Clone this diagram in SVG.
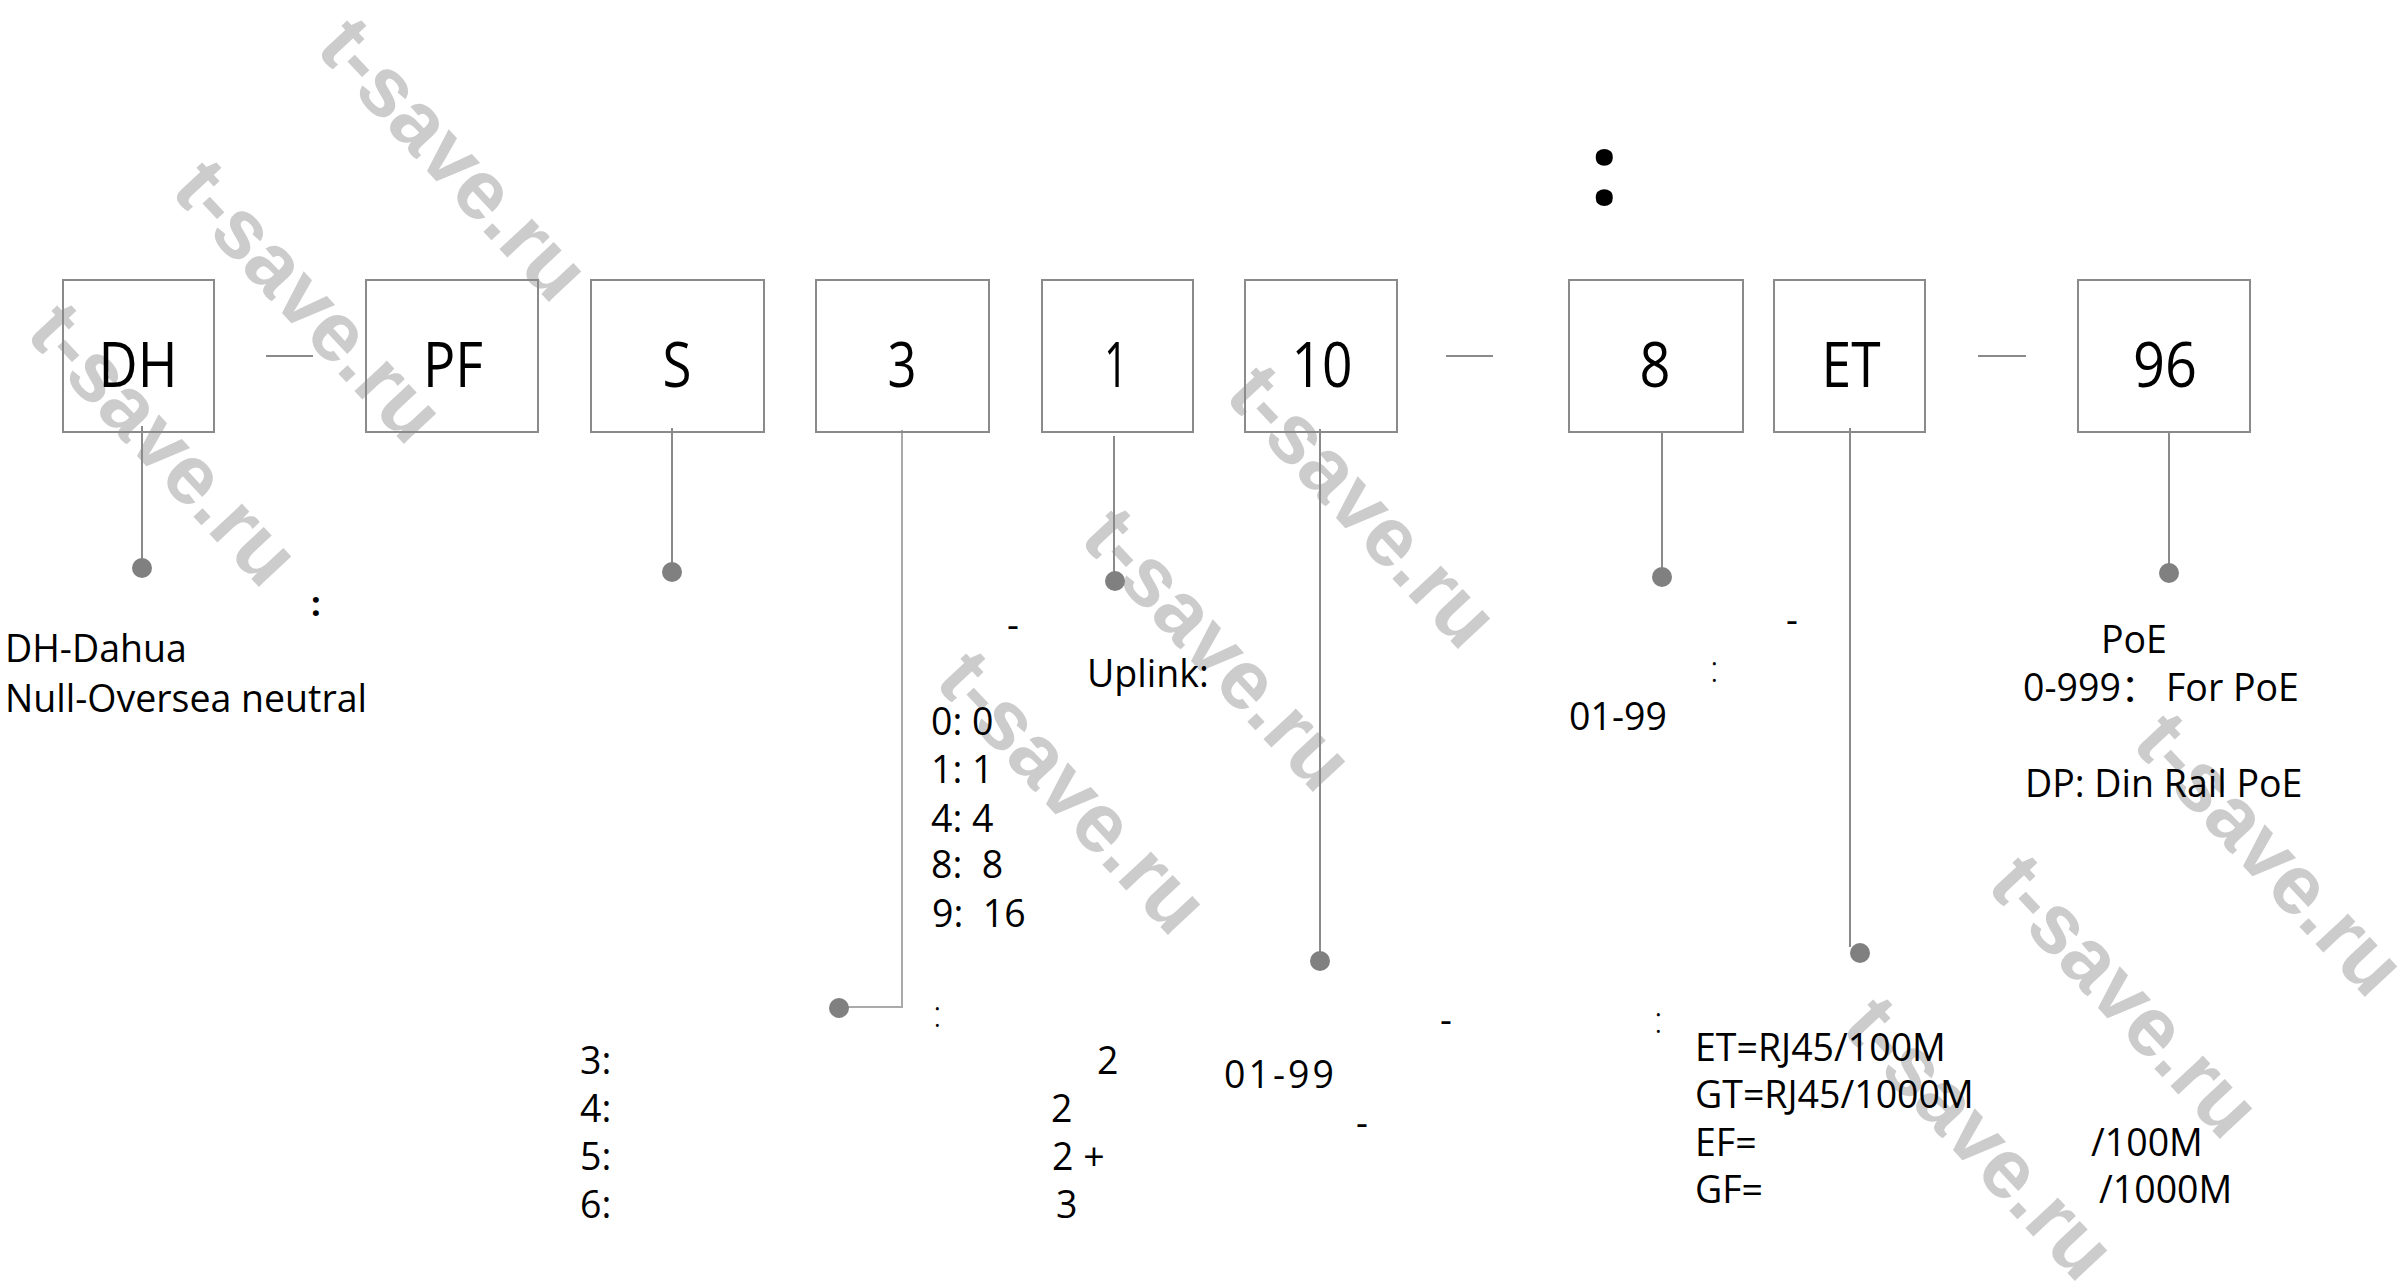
<svg xmlns="http://www.w3.org/2000/svg" width="2407" height="1281" viewBox="0 0 2407 1281">
<style>
.bg{fill:#ffffff}
.wm{font-family:"Liberation Sans",Arial,sans-serif;font-weight:bold;font-size:84px;fill:#cccccc}
.box{fill:none;stroke:#8a8a8a;stroke-width:2}
.lbl{font-family:"Open Sans","Noto Sans",sans-serif;font-size:62px;fill:#000000;text-anchor:middle}
.t{font-family:"Open Sans","Noto Sans CJK SC",sans-serif;font-size:37.5px;fill:#000000}
.thin{font-family:"Open Sans",sans-serif;font-size:36px;font-weight:300;fill:#000000}
.dash{font-family:"Open Sans",sans-serif;font-size:37px;fill:#000000}
.bigcolon{font-family:"Open Sans",sans-serif;font-weight:bold;fill:#000000}
.ln{fill:none;stroke:#8a8a8a;stroke-width:2}
.ln2{fill:none;stroke:#aaaaaa;stroke-width:2}
.dot{fill:#808080}
</style>
<rect class="bg" x="0" y="0" width="2407" height="1281"/>
<g id="watermarks">
<text class="wm" transform="translate(314,50) rotate(47)">t-save.ru</text>
<text class="wm" transform="translate(169,192) rotate(47)">t-save.ru</text>
<text class="wm" transform="translate(24,335) rotate(47)">t-save.ru</text>
<text class="wm" transform="translate(1223,397) rotate(47)">t-save.ru</text>
<text class="wm" transform="translate(1078,540) rotate(47)">t-save.ru</text>
<text class="wm" transform="translate(933,683) rotate(47)">t-save.ru</text>
<text class="wm" transform="translate(2130,745) rotate(47)">t-save.ru</text>
<text class="wm" transform="translate(1985,887) rotate(47)">t-save.ru</text>
<text class="wm" transform="translate(1840,1029) rotate(47)">t-save.ru</text>
</g>
<text class="bigcolon" x="1590" y="205" font-size="100">:</text>
<g id="connectors">
<line class="ln" x1="266" y1="356" x2="313" y2="356"/>
<line class="ln" x1="1446" y1="356" x2="1493" y2="356"/>
<line class="ln" x1="1978" y1="356" x2="2026" y2="356"/>
<line class="ln" x1="142" y1="426" x2="142" y2="560"/>
<circle class="dot" cx="142" cy="568" r="10"/>
<line class="ln" x1="672" y1="428" x2="672" y2="564"/>
<circle class="dot" cx="672" cy="572" r="10"/>
<polyline class="ln2" points="902,430 902,1007 845,1007"/>
<circle class="dot" cx="839" cy="1008" r="10"/>
<line class="ln" x1="1114" y1="436" x2="1114" y2="574"/>
<circle class="dot" cx="1115" cy="581" r="10"/>
<line class="ln" x1="1320" y1="429" x2="1320" y2="953"/>
<circle class="dot" cx="1320" cy="961" r="10"/>
<line class="ln" x1="1662" y1="432" x2="1662" y2="569"/>
<circle class="dot" cx="1662" cy="577" r="10"/>
<line class="ln" x1="1850" y1="428" x2="1850" y2="947"/>
<circle class="dot" cx="1860" cy="953" r="10"/>
<line class="ln" x1="2169" y1="432" x2="2169" y2="565"/>
<circle class="dot" cx="2169" cy="573" r="10"/>
</g>
<g id="node-DH"><rect class="box" x="63" y="280" width="151" height="152"/><text class="lbl" x="138" y="387" textLength="79" lengthAdjust="spacingAndGlyphs">DH</text></g>
<g id="node-PF"><rect class="box" x="366" y="280" width="172" height="152"/><text class="lbl" x="453" y="387" textLength="60" lengthAdjust="spacingAndGlyphs">PF</text></g>
<g id="node-S"><rect class="box" x="591" y="280" width="173" height="152"/><text class="lbl" x="677" y="387" textLength="29" lengthAdjust="spacingAndGlyphs">S</text></g>
<g id="node-3"><rect class="box" x="816" y="280" width="173" height="152"/><text class="lbl" x="902" y="387" textLength="29" lengthAdjust="spacingAndGlyphs">3</text></g>
<g id="node-1"><rect class="box" x="1042" y="280" width="151" height="152"/><text class="lbl" x="1116" y="387" textLength="24" lengthAdjust="spacingAndGlyphs">1</text></g>
<g id="node-10"><rect class="box" x="1245" y="280" width="152" height="152"/><text class="lbl" x="1322" y="387" textLength="61" lengthAdjust="spacingAndGlyphs">10</text></g>
<g id="node-8"><rect class="box" x="1569" y="280" width="174" height="152"/><text class="lbl" x="1655" y="387" textLength="31" lengthAdjust="spacingAndGlyphs">8</text></g>
<g id="node-ET"><rect class="box" x="1774" y="280" width="151" height="152"/><text class="lbl" x="1851" y="387" textLength="59" lengthAdjust="spacingAndGlyphs">ET</text></g>
<g id="node-96"><rect class="box" x="2078" y="280" width="172" height="152"/><text class="lbl" x="2165" y="387" textLength="64" lengthAdjust="spacingAndGlyphs">96</text></g>
<g id="desc-DH">
<text class="bigcolon" x="311" y="616" font-size="34">:</text>
<text class="t" x="5" y="662">DH-Dahua</text>
<text class="t" x="5" y="712">Null-Oversea neutral</text>
</g>
<g id="desc-1">
<text class="dash" x="1007" y="638" font-size="30">-</text>
<text class="t" x="1087" y="687">Uplink:</text>
<text class="t" x="931" y="735" xml:space="preserve">0: 0</text>
<text class="t" x="931" y="783" xml:space="preserve">1: 1</text>
<text class="t" x="931" y="832" xml:space="preserve">4: 4</text>
<text class="t" x="931" y="878" xml:space="preserve">8:  8</text>
<text class="t" x="932" y="927" xml:space="preserve">9:  16</text>
</g>
<g id="desc-3">
<text class="thin" x="933" y="1027">:</text>
<text class="t" x="580" y="1074">3:</text>
<text class="t" x="580" y="1122">4:</text>
<text class="t" x="580" y="1170">5:</text>
<text class="t" x="580" y="1218">6:</text>
<text class="t" x="1097" y="1074">2</text>
<text class="t" x="1051" y="1122">2</text>
<text class="t" x="1052" y="1170" xml:space="preserve">2 +</text>
<text class="t" x="1056" y="1218">3</text>
</g>
<g id="desc-10">
<text class="t" x="1224" y="1088" letter-spacing="3">01-99</text>
<text class="dash" x="1440" y="1033" font-size="30">-</text>
<text class="dash" x="1356" y="1136" font-size="30">-</text>
</g>
<g id="desc-8">
<text class="dash" x="1786" y="633" font-size="30">-</text>
<text class="thin" x="1710" y="682">:</text>
<text class="t" x="1569" y="730">01-99</text>
</g>
<g id="desc-ET">
<text class="thin" x="1654" y="1033">:</text>
<text class="t" x="1695" y="1061">ET=RJ45/100M</text>
<text class="t" x="1695" y="1108">GT=RJ45/1000M</text>
<text class="t" x="1695" y="1156">EF=</text>
<text class="t" x="1695" y="1203">GF=</text>
<text class="t" x="2091" y="1156">/100M</text>
<text class="t" x="2099" y="1203">/1000M</text>
</g>
<g id="desc-96">
<text class="t" x="2101" y="653">PoE</text>
<text class="t" x="2023" y="701">0-999：<tspan x="2166">For PoE</tspan></text>
<text class="t" x="2025" y="797">DP: Din Rail PoE</text>
</g>
</svg>
